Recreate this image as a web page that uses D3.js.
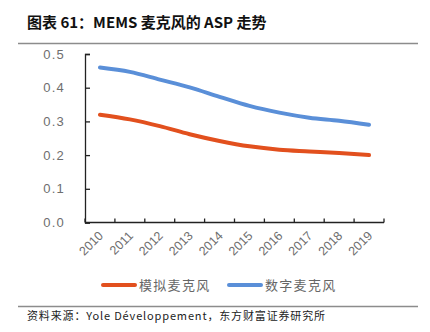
<!DOCTYPE html>
<html>
<head>
<meta charset="utf-8">
<script src="https://cdn.jsdelivr.net/npm/d3@7"></script>
<style>
  html, body { margin: 0; padding: 0; background: #fff; }
  svg { display: block; }
</style>
</head>
<body>
<svg id="chart" width="430" height="332"></svg>
<script>
const years = ["2010","2011","2012","2013","2014","2015","2016","2017","2018","2019"];
const analogMic = [0.320, 0.306, 0.286, 0.262, 0.242, 0.226, 0.216, 0.211, 0.206, 0.200];
const digitalMic = [0.460, 0.447, 0.424, 0.401, 0.373, 0.346, 0.326, 0.311, 0.302, 0.290];
const yTicks = [0, 0.1, 0.2, 0.3, 0.4, 0.5];
const seriesNames = ["模拟麦克风", "数字麦克风"];
const titleText = "图表 61：MEMS 麦克风的 ASP 走势";
const sourceText = "资料来源：Yole Développement，东方财富证券研究所";

const colors = ["#E2501E", "#5A8FD8"];
const svg = d3.select("#chart");
const cjk = "'Noto Sans CJK SC', 'Noto Sans', sans-serif";

// Title
svg.append("text").attr("x", 27).attr("y", 28)
  .attr("font-family", cjk).attr("font-weight", "bold").attr("font-size", 15)
  .attr("fill", "#111").text(titleText);
svg.append("line").attr("x1", 18).attr("x2", 418).attr("y1", 43.5).attr("y2", 43.5)
  .attr("stroke", "#8c8c8c").attr("stroke-width", 1.5);

// Scales
const x = d3.scaleBand().domain(years).range([85, 384]);
const y = d3.scaleLinear().domain([0, 0.5]).range([222.5, 54]);

// Y axis
const yAxis = svg.append("g").attr("transform", "translate(85,0)")
  .call(d3.axisLeft(y).tickValues(yTicks).tickFormat(d3.format(".1f"))
    .tickSizeInner(-5).tickSizeOuter(-5).tickPadding(20));
yAxis.select(".domain").attr("stroke", "#222").attr("stroke-width", 1.3);
yAxis.selectAll(".tick line").attr("stroke", "#222").attr("stroke-width", 1.3);
yAxis.selectAll("text").attr("font-family", "'Liberation Sans', Arial, sans-serif")
  .attr("font-size", 13).attr("fill", "#6e6e6e").attr("letter-spacing", 1.2);

// X axis
const xAxis = svg.append("g").attr("transform", "translate(0,222.5)");
xAxis.append("line").attr("x1", 85).attr("x2", 384).attr("stroke", "#222").attr("stroke-width", 1.3);
const boundaries = years.map(d => x(d)).concat([x(years[years.length - 1]) + x.bandwidth()]);
xAxis.selectAll(".xt").data(boundaries).enter().append("line")
  .attr("x1", d => d).attr("x2", d => d).attr("y1", 0).attr("y2", -4)
  .attr("stroke", "#222").attr("stroke-width", 1.3);
xAxis.selectAll(".xl").data(years).enter().append("text")
  .attr("transform", d => `translate(${x(d) + x.bandwidth() / 2 + 4},${14}) rotate(-45)`)
  .attr("text-anchor", "end")
  .attr("font-family", "'Liberation Sans', Arial, sans-serif")
  .attr("font-size", 12.5).attr("fill", "#6e6e6e").text(d => d);

// Lines
const line = d3.line()
  .x((d, i) => x(years[i]) + x.bandwidth() / 2)
  .y(d => y(d))
  .curve(d3.curveMonotoneX);
[analogMic, digitalMic].forEach((s, i) => {
  svg.append("path").datum(s).attr("d", line)
    .attr("fill", "none").attr("stroke", colors[i]).attr("stroke-width", 4)
    .attr("stroke-linecap", "round");
});

// Legend
const legendX = [103, 229];
seriesNames.forEach((n, i) => {
  svg.append("line").attr("x1", legendX[i]).attr("x2", legendX[i] + 32)
    .attr("y1", 285).attr("y2", 285)
    .attr("stroke", colors[i]).attr("stroke-width", 4).attr("stroke-linecap", "round");
  svg.append("text").attr("x", legendX[i] + 36).attr("y", 290)
    .attr("font-family", cjk).attr("font-size", 13).attr("letter-spacing", 1.3)
    .attr("fill", "#666").text(n);
});

// Bottom rule and source
svg.append("line").attr("x1", 18).attr("x2", 418).attr("y1", 306.5).attr("y2", 306.5)
  .attr("stroke", "#8c8c8c").attr("stroke-width", 1.5);
svg.append("text").attr("x", 27).attr("y", 320)
  .attr("font-family", cjk).attr("font-size", 11).attr("letter-spacing", 0.85)
  .attr("fill", "#222").text(sourceText);
</script>
</body>
</html>
